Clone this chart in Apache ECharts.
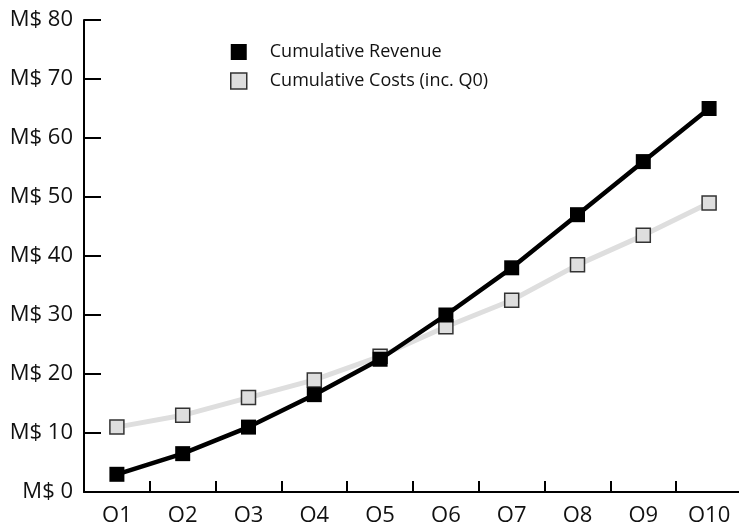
<!DOCTYPE html>
<html>
<head>
<meta charset="utf-8">
<script src="https://cdn.jsdelivr.net/npm/echarts@6/dist/echarts.min.js"></script>
<style>
  html, body { margin: 0; padding: 0; background: #fff; }
  #chart { width: 739px; height: 522px; }
</style>
</head>
<body>
<div id="chart"></div>
<script>
// Quarterly cumulative figures, in millions of dollars
const quarters = ['Q1', 'Q2', 'Q3', 'Q4', 'Q5', 'Q6', 'Q7', 'Q8', 'Q9', 'Q10'];
const revenue = [3, 6.5, 11, 16.5, 22.5, 30, 38, 47, 56, 65];
const costs = [11, 13, 16, 19, 23, 28, 32.5, 38.5, 43.5, 49];

const FONT = '"Open Sans", sans-serif';

const chart = echarts.init(document.getElementById('chart'));
chart.setOption({
  animation: false,
  backgroundColor: '#fff',
  legend: {
    orient: 'vertical',
    left: 225,
    top: 38,
    itemWidth: 16,
    itemHeight: 16,
    itemGap: 11,
    textStyle: { fontFamily: FONT, fontSize: 18, color: '#111', padding: [0, 0, 0, 18] },
    data: [
      { name: 'Cumulative Revenue', icon: 'rect', itemStyle: { color: '#000', borderWidth: 0 } },
      { name: 'Cumulative Costs (inc. Q0)', icon: 'rect',
        itemStyle: { color: '#dedede', borderColor: '#333', borderWidth: 1.5 } }
    ]
  },
  grid: { left: 84, right: -3, top: 20, bottom: 30, containLabel: false, outerBoundsMode: 'none' },
  xAxis: {
    type: 'category',
    data: quarters,
    boundaryGap: true,
    axisLine: { show: true, lineStyle: { color: '#000', width: 2 } },
    axisTick: { show: true, inside: true, length: 11, interval: 0, alignWithLabel: false,
                lineStyle: { color: '#000', width: 2 } },
    axisLabel: { margin: 13, fontFamily: FONT, fontSize: 22, color: '#111', interval: 0 },
    splitLine: { show: false }
  },
  yAxis: {
    type: 'value',
    min: 0,
    max: 80,
    interval: 10,
    axisLine: { show: true, lineStyle: { color: '#000', width: 2 } },
    axisTick: { show: true, inside: true, length: 17, lineStyle: { color: '#000', width: 2 } },
    axisLabel: { margin: 11, fontFamily: FONT, fontSize: 22, color: '#111', formatter: 'M$ {value}' },
    splitLine: { show: false }
  },
  series: [
    {
      name: 'Cumulative Costs (inc. Q0)',
      type: 'line',
      data: costs,
      symbol: 'rect',
      symbolSize: 14,
      lineStyle: { color: '#dedede', width: 5 },
      itemStyle: { color: '#dedede', borderColor: '#333', borderWidth: 1.5 },
      z: 2
    },
    {
      name: 'Cumulative Revenue',
      type: 'line',
      data: revenue,
      symbol: 'rect',
      symbolSize: 15,
      lineStyle: { color: '#000', width: 4.5 },
      itemStyle: { color: '#000', borderWidth: 0 },
      z: 3
    }
  ]
});
</script>
</body>
</html>
